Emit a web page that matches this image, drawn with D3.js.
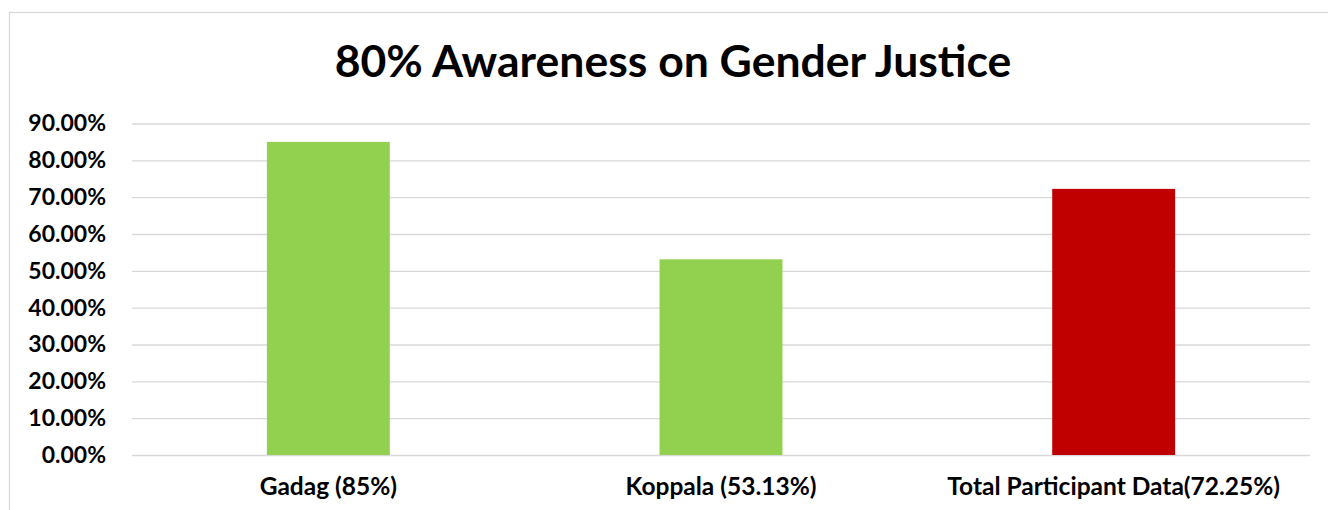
<!DOCTYPE html>
<html>
<head>
<meta charset="utf-8">
<script src="https://cdn.jsdelivr.net/npm/d3@7"></script>
<style>
  html, body { margin: 0; padding: 0; background: #fff; }
  svg { display: block; font-family: Lato, "Open Sans", sans-serif; }
</style>
</head>
<body>
<div id="chart"></div>
<script>
// chart values
const categories = ["Gadag (85%)", "Koppala (53.13%)", "Total Participant Data(72.25%)"];
const values = [0.85, 0.5313, 0.7225];
const barColors = ["#92D050", "#92D050", "#C00000"];
const yTicks = [0, 0.1, 0.2, 0.3, 0.4, 0.5, 0.6, 0.7, 0.8, 0.9];
const title = "80% Awareness on Gender Justice";

function drawChart() {
    const W = 1328, H = 510;
    const plot = {left: 132, right: 1310, top: 123.5, bottom: 455};

    const svg = d3.select("#chart")
        .append("svg")
        .attr("width", W)
        .attr("height", H);

    // chart border (runs off right and bottom edges)
    svg.append("rect")
        .attr("x", 9.5)
        .attr("y", 12.5)
        .attr("width", W + 20)
        .attr("height", H + 20)
        .attr("fill", "#fff")
        .attr("stroke", "#d9d9d9")
        .attr("stroke-width", 1.3);

    // scales
    const x = d3.scaleBand()
        .domain(categories)
        .range([plot.left, plot.right])
        .padding(0);

    const y = d3.scaleLinear()
        .domain([0, 0.9])
        .range([plot.bottom, plot.top]);

    const barWidth = x.bandwidth() * 0.313;

    // grid lines
    svg.append("g")
        .attr("class", "grid")
        .attr("transform", `translate(${plot.left},0)`)
        .call(d3.axisLeft(y)
            .tickValues(yTicks)
            .tickSize(-(plot.right - plot.left))
            .tickFormat(""))
        .call(g => g.select(".domain").remove())
        .call(g => g.selectAll("line")
            .attr("stroke", "#d9d9d9")
            .attr("stroke-width", 1.3));

    // bars
    svg.append("g")
        .selectAll("rect")
        .data(values)
        .join("rect")
        .attr("x", (d, i) => x(categories[i]) + x.bandwidth() / 2 - barWidth / 2)
        .attr("y", d => y(d))
        .attr("width", barWidth)
        .attr("height", d => y(0) - y(d))
        .attr("fill", (d, i) => barColors[i]);

    // y axis labels
    const yAxis = svg.append("g")
        .attr("transform", "translate(106,0)")
        .call(d3.axisLeft(y)
            .tickValues(yTicks)
            .tickSize(0)
            .tickPadding(0)
            .tickFormat(d3.format(".2%")));
    yAxis.select(".domain").remove();
    yAxis.selectAll(".tick text")
        .attr("fill", "#000")
        .style("font-family", "Lato, 'Open Sans', sans-serif")
        .style("font-size", "23px")
        .style("font-weight", "bold");

    // x axis labels
    const xAxis = svg.append("g")
        .attr("transform", "translate(0,495)")
        .call(d3.axisBottom(x).tickSize(0).tickPadding(0));
    xAxis.select(".domain").remove();
    xAxis.selectAll(".tick text")
        .attr("dy", 0)
        .attr("y", 0)
        .attr("fill", "#000")
        .style("font-family", "Lato, 'Open Sans', sans-serif")
        .style("font-size", "24.5px")
        .style("font-weight", "bold");

    // title
    svg.append("text")
        .attr("x", 673)
        .attr("y", 77)
        .attr("text-anchor", "middle")
        .style("font-size", "44.5px")
        .style("font-weight", "bold")
        .attr("fill", "#000")
        .text(title);
}

drawChart();
</script>
</body>
</html>
